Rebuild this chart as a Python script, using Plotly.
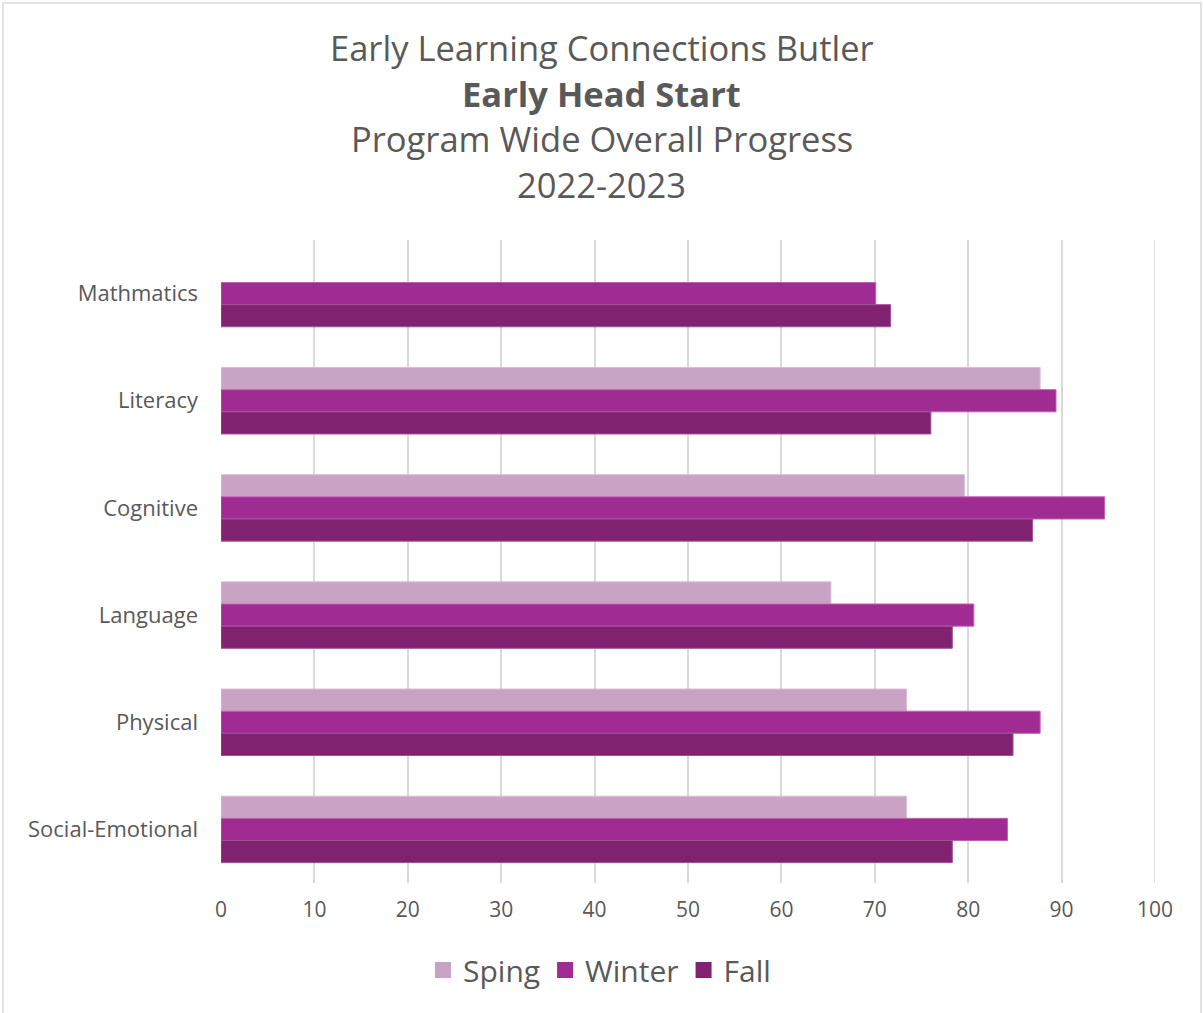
import plotly.graph_objects as go

categories = ["Mathmatics", "Literacy", "Cognitive", "Language", "Physical", "Social-Emotional"]
spring = [None, 87.7, 79.6, 65.3, 73.4, 73.4]
winter = [70.1, 89.4, 94.6, 80.6, 87.7, 84.2]
fall = [71.7, 76.0, 86.9, 78.3, 84.8, 78.3]
series_names = ["Sping", "Winter", "Fall"]
colors = ["#C9A3C4", "#A02B93", "#80226F"]
outline = ["#D9BCD5", "#C060B4", "#A0509A"]
title_lines = ["Early Learning Connections Butler", "<b>Early Head Start</b>",
               "Program Wide Overall Progress", "2022-2023"]
x_ticks = list(range(0, 101, 10))

W, H = 1203, 1013
L, R, T, B = 221, 48, 240, 130
PW, PH = W - L - R, H - T - B

fig = go.Figure()
for name, vals, c, oc in zip(series_names, [spring, winter, fall], colors, outline):
    fig.add_trace(go.Bar(
        y=categories, x=vals, name=name, orientation="h", showlegend=False,
        marker=dict(color=c, line=dict(color=oc, width=1)),
    ))
# legend entries with larger square swatches
for name, c in zip(series_names, colors):
    fig.add_trace(go.Scatter(
        x=[None], y=[None], mode="markers", name=name,
        marker=dict(symbol="square", size=18, color=c), showlegend=True,
    ))

font_family = "Open Sans"
text_color = "#595959"

# title lines (pixel positions in the page)
line_y_px = [47, 93, 138, 184]
for txt, py in zip(title_lines, line_y_px):
    fig.add_annotation(
        text=txt, xref="paper", yref="paper",
        x=(W / 2 - L) / PW, y=(H - B - py) / PH,
        xanchor="center", yanchor="middle", showarrow=False,
        font=dict(family=font_family, size=34.5, color=text_color),
    )

# chart border
fig.add_shape(
    type="rect", xref="paper", yref="paper",
    x0=(3 - L) / PW, x1=(1201 - L) / PW,
    y0=(H - B - 1030) / PH, y1=(H - B - 3) / PH,
    line=dict(color="#D9D9D9", width=1.5), fillcolor="rgba(0,0,0,0)", layer="below",
)
# gridline at the right end of the axis
fig.add_shape(
    type="line", xref="x", yref="paper", x0=x_ticks[-1], x1=x_ticks[-1], y0=0, y1=1,
    line=dict(color="#D9D9D9", width=1.5), layer="below",
)

fig.update_layout(
    width=W, height=H,
    margin=dict(l=L, r=R, t=T, b=B),
    paper_bgcolor="white", plot_bgcolor="white",
    barmode="group", bargap=0.38, bargroupgap=0,
    font=dict(family=font_family, color=text_color),
    legend=dict(
        orientation="h", xref="paper", yref="paper",
        x=(W / 2 - 2 - L) / PW, xanchor="center",
        y=(H - B - 970) / PH, yanchor="middle",
        font=dict(size=30, color=text_color), traceorder="normal",
        itemwidth=30,
    ),
    showlegend=True,
)
fig.update_xaxes(
    range=[0, 100], tickvals=x_ticks, showgrid=True, gridcolor="#D9D9D9", gridwidth=1.5,
    zeroline=False, showline=False, tickfont=dict(size=21, color=text_color),
    ticklabelstandoff=12, fixedrange=True,
)
fig.update_yaxes(
    autorange="reversed", showgrid=False, zeroline=False, showline=False,
    tickfont=dict(size=22, color=text_color), ticklabelstandoff=22,
)

fig.write_html("out.html", config={"displayModeBar": False},
               post_script="document.body.style.margin='0px';")
